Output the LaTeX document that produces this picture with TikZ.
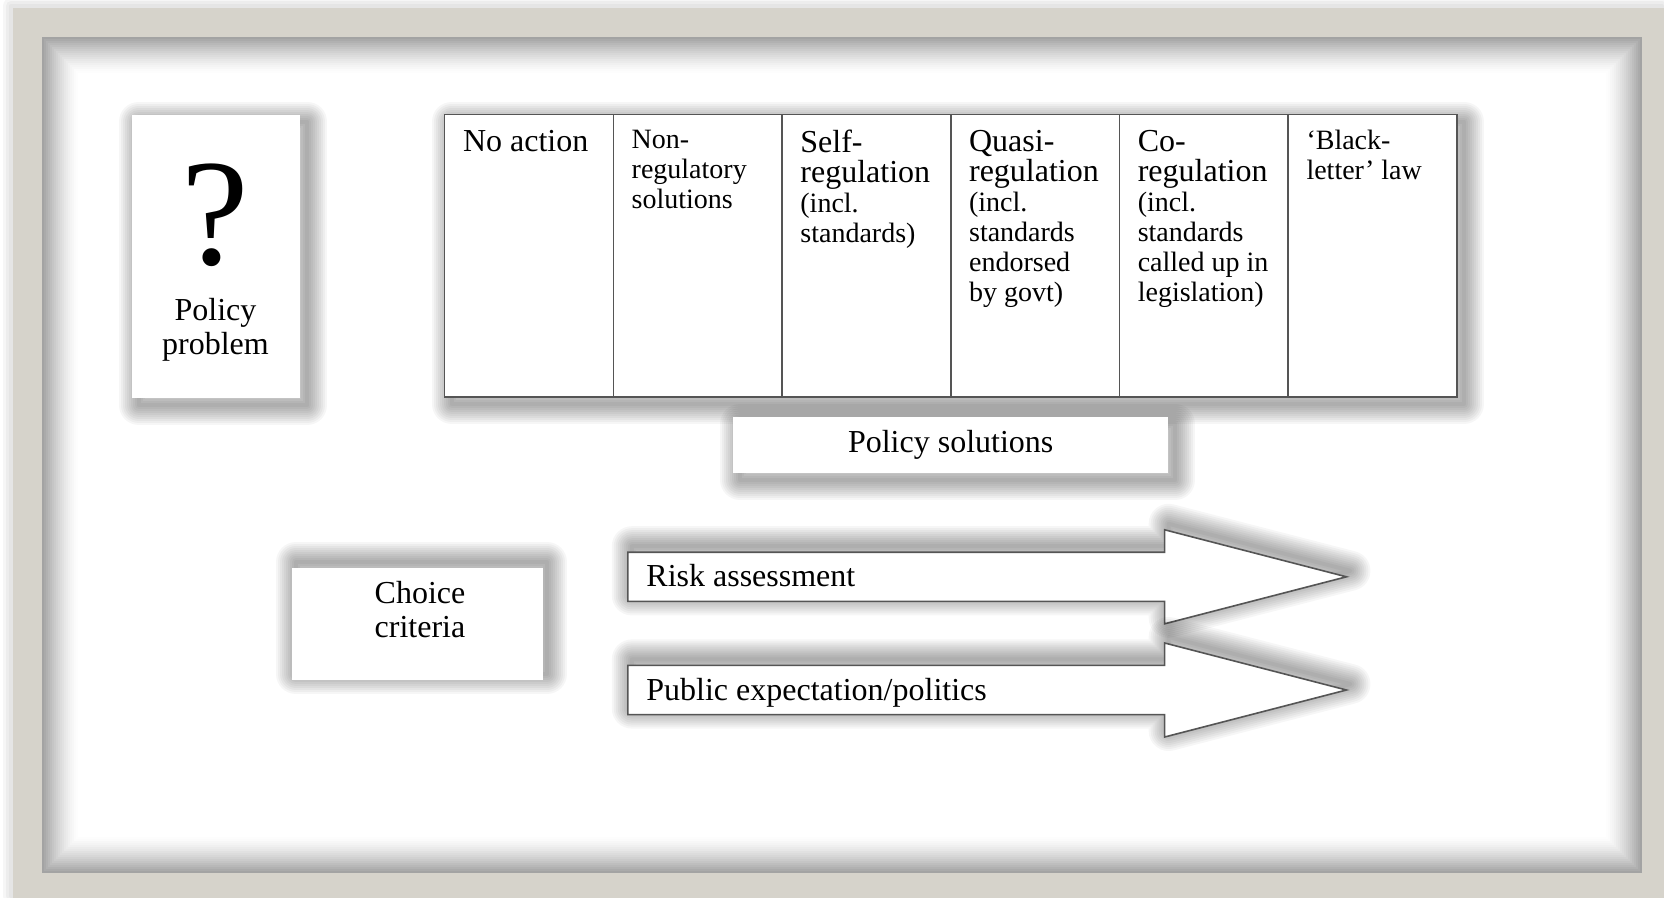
\documentclass[tikz,border=0pt]{standalone}
\usepackage{fontspec}
\setmainfont{Liberation Serif}
\usetikzlibrary{positioning,shapes.arrows}
\definecolor{framebeige}{RGB}{214,211,203}
\definecolor{rulegray}{RGB}{85,85,85}
\newcommand\cellhead[1]{{\fontsize{16}{15}\selectfont #1}}
\tikzset{
  shadowstep/.style 2 args={preaction={draw=black,draw opacity=0.035,line width=#1,line join=round,transform canvas={shift={#2}}}},
  softshadow/.style={shadowstep={20pt}{(3.5pt,-3.5pt)},shadowstep={18pt}{(3.5pt,-3.5pt)},shadowstep={16pt}{(3.5pt,-3.5pt)},
    shadowstep={14pt}{(3.5pt,-3.5pt)},shadowstep={12pt}{(3.5pt,-3.5pt)},shadowstep={10pt}{(3.5pt,-3.5pt)},
    shadowstep={8pt}{(3.5pt,-3.5pt)},shadowstep={6pt}{(3.5pt,-3.5pt)},shadowstep={4pt}{(3.5pt,-3.5pt)},shadowstep={2pt}{(3.5pt,-3.5pt)}},
  upshadow/.style={shadowstep={20pt}{(2pt,3pt)},shadowstep={18pt}{(2pt,3pt)},shadowstep={16pt}{(2pt,3pt)},
    shadowstep={14pt}{(2pt,3pt)},shadowstep={12pt}{(2pt,3pt)},shadowstep={10pt}{(2pt,3pt)},
    shadowstep={8pt}{(2pt,3pt)},shadowstep={6pt}{(2pt,3pt)},shadowstep={4pt}{(2pt,3pt)},shadowstep={2pt}{(2pt,3pt)}},
  whitebox/.style={fill=white,inner sep=0pt,outer sep=0pt},
  cell/.style={draw=rulegray,line width=0.8pt,fill=white,minimum width=84.35pt,minimum height=141.2pt,inner sep=0pt,outer sep=0pt},
  celltext/.style={anchor=north west,align=left,inner sep=0pt,font=\fontsize{14}{15}\selectfont},
  bigarrow/.style={single arrow,draw=rulegray,line width=0.8pt,fill=white,minimum height=359.3pt,minimum width=46.2pt,
    single arrow head extend=11.2pt,single arrow tip angle=29,single arrow head indent=0pt,
    inner sep=0pt,text height=0pt,text depth=0pt,inner ysep=11.9pt,anchor=tail},
  label16/.style={font=\fontsize{16}{17}\selectfont}
}
\begin{document}
\begin{tikzpicture}[x=0.5pt,y=-0.5pt]
\useasboundingbox (0,0) rectangle (1664,898);
% frame
\fill[framebeige,shadowstep={8pt}{(-1pt,1pt)},shadowstep={5pt}{(-1pt,1pt)},shadowstep={2pt}{(-1pt,1pt)}] (13,8) rectangle (1664,898);
\foreach \i in {0,...,17}{
  \pgfmathsetmacro\shade{36*(1-\i/18)^1.4}
  \fill[black!\shade] (42+2*\i,37+2*\i) rectangle (1642-2*\i,873-2*\i);
}
\fill[white] (78,73) rectangle (1606,837);

% policy problem
\node[whitebox,softshadow,minimum width=84.35pt,minimum height=141.7pt] (problem) at (216,256.3) {};
\node[font=\fontsize{76}{76}\selectfont,anchor=base,inner sep=0pt] (qmark) at (215.5,265) {?};
\node[label16,align=center] (problemtext) at (215.5,330) {Policy\\problem};

% policy solutions table
\fill[white,softshadow] (444.6,114.6) rectangle (1457,397);
\node[cell,anchor=north west] (noaction) at (444.6,114.6) {};
\node[cell,right=0pt of noaction] (nonreg) {};
\node[cell,right=0pt of nonreg] (selfreg) {};
\node[cell,right=0pt of selfreg] (quasireg) {};
\node[cell,right=0pt of quasireg] (coreg) {};
\node[cell,right=0pt of coreg] (blackletter) {};
\node[celltext] (noaction-text) at ([shift={(9pt,-7.7pt)}]noaction.north west) {\cellhead{No action}};
\node[celltext] (nonreg-text) at ([shift={(9pt,-7.7pt)}]nonreg.north west) {Non-\\regulatory\\solutions};
\node[celltext] (selfreg-text) at ([shift={(9pt,-7.7pt)}]selfreg.north west) {\cellhead{Self-}\\\cellhead{regulation}\\(incl.\\standards)};
\node[celltext] (quasireg-text) at ([shift={(9pt,-7.7pt)}]quasireg.north west) {\cellhead{Quasi-}\\\cellhead{regulation}\\(incl.\\standards\\endorsed\\by govt)};
\node[celltext] (coreg-text) at ([shift={(9pt,-7.7pt)}]coreg.north west) {\cellhead{Co-}\\\cellhead{regulation}\\(incl.\\standards\\called up in\\legislation)};
\node[celltext] (blackletter-text) at ([shift={(9pt,-7.7pt)}]blackletter.north west) {‘Black-\\letter’ law};
\node[whitebox,softshadow,label16,minimum width=217.5pt,minimum height=28pt,below=10pt of selfreg.south east] (solutions) {Policy solutions};

% choice criteria
\node[whitebox,upshadow,minimum width=125.5pt,minimum height=56pt] (criteria) at (417.5,624) {};
\node[label16,align=center] (criteriatext) at (420,610) {Choice\\criteria};
\node[bigarrow,upshadow] (riskarrow) at (627,576.8) {};
\node[bigarrow,upshadow] (publicarrow) at (627,690) {};
\node[label16,anchor=base west,inner sep=0pt] (risktext) at ([shift={(9.5pt,-5pt)}]riskarrow.tail) {Risk assessment};
\node[label16,anchor=base west,inner sep=0pt] (publictext) at ([shift={(9.5pt,-5pt)}]publicarrow.tail) {Public expectation/politics};
\end{tikzpicture}
\end{document}
